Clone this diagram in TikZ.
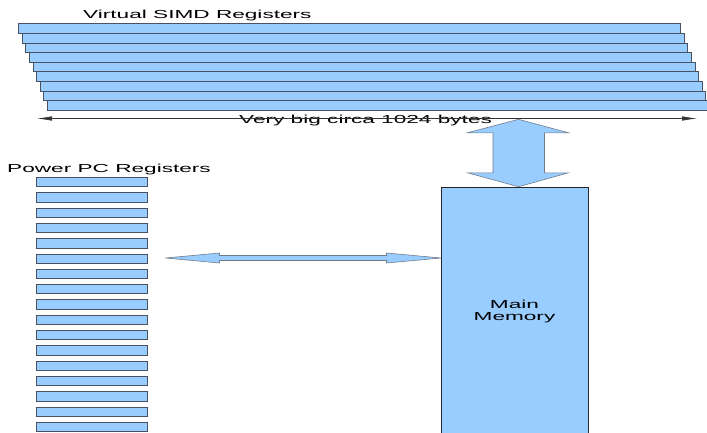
\documentclass[tikz,border=0pt]{standalone}
\usepackage{fontspec}
\setmainfont{Liberation Sans}
\usetikzlibrary{calc,arrows.meta}
\definecolor{regfill}{RGB}{153,204,255}
\definecolor{regedge}{RGB}{72,82,98}
\definecolor{arrowedge}{RGB}{110,125,140}
\newcommand{\widetxt}[1]{\scalebox{1.95}[1]{#1}}

\begin{document}
\begin{tikzpicture}[x=1pt,y=-1pt,>=Latex,
  lbl/.style={font=\fontsize{11.6}{12.4}\selectfont,inner sep=0pt},
  reg/.style={draw=regedge,fill=regfill,line width=0.8pt,inner sep=0pt,anchor=north west},
  blockarrow/.style={draw=arrowedge,fill=regfill,line width=0.6pt,line join=miter}]
  \useasboundingbox (0,0) rectangle (707,432);
  % Virtual SIMD registers, stacked and shifted
  \node[lbl,anchor=base west] (simdtitle) at (83,18.3) {\widetxt{Virtual SIMD Registers}};
  \foreach \i in {0,...,8}
    \node[reg,minimum width=662pt,minimum height=9.63pt] (simd\i) at ({18+3.63*\i},{23.3+9.63*\i}) {};
  \node[lbl,anchor=base west] (sizelbl) at (239,123) {\widetxt{Very big circa 1024 bytes}};
  \coordinate (dimL) at (37,118.5);
  \coordinate (dimR) at (697,118.5);
  \draw[<->,>={Latex[length=15pt,width=4.5pt]},line width=0.6pt,black!80] (dimL) -- (dimR);
  % Power PC registers
  \node[lbl,anchor=base west] (ppctitle) at (7,172) {\widetxt{Power PC Registers}};
  \foreach \i in {0,...,16}
    \node[reg,minimum width=111pt,minimum height=9.3pt] (ppc\i) at (36,{177+15.3*\i}) {};
  % Main memory
  \node[reg,draw=black!85,line width=0.9pt,minimum width=147pt,minimum height=260pt] (mem) at (441,186.7) {};
  \node[lbl,align=center] (memlbl) at (514.5,311.5) {\widetxt{Main}\\\widetxt{Memory}};
  % block arrows
  \coordinate (vtop) at (518.5,119.3);
  \draw[blockarrow,shift={(vtop)}] (0,0) -- (50,13.5) -- (26,13.5) -- (26,53.5) -- (50,53.5)
    -- (0,67.4) -- (-51,53.5) -- (-25.5,53.5) -- (-25.5,13.5) -- (-51,13.5) -- cycle;
  \coordinate (hleft) at ($(mem.west |- 0,258)+(-275.5,0)$);
  \draw[blockarrow,shift={(hleft)}] (0,0) -- (54,-5) -- (54,-2.5) -- (221,-2.5) -- (221,-5)
    -- (275.5,0) -- (221,5) -- (221,2.5) -- (54,2.5) -- (54,5) -- cycle;
\end{tikzpicture}
\end{document}
